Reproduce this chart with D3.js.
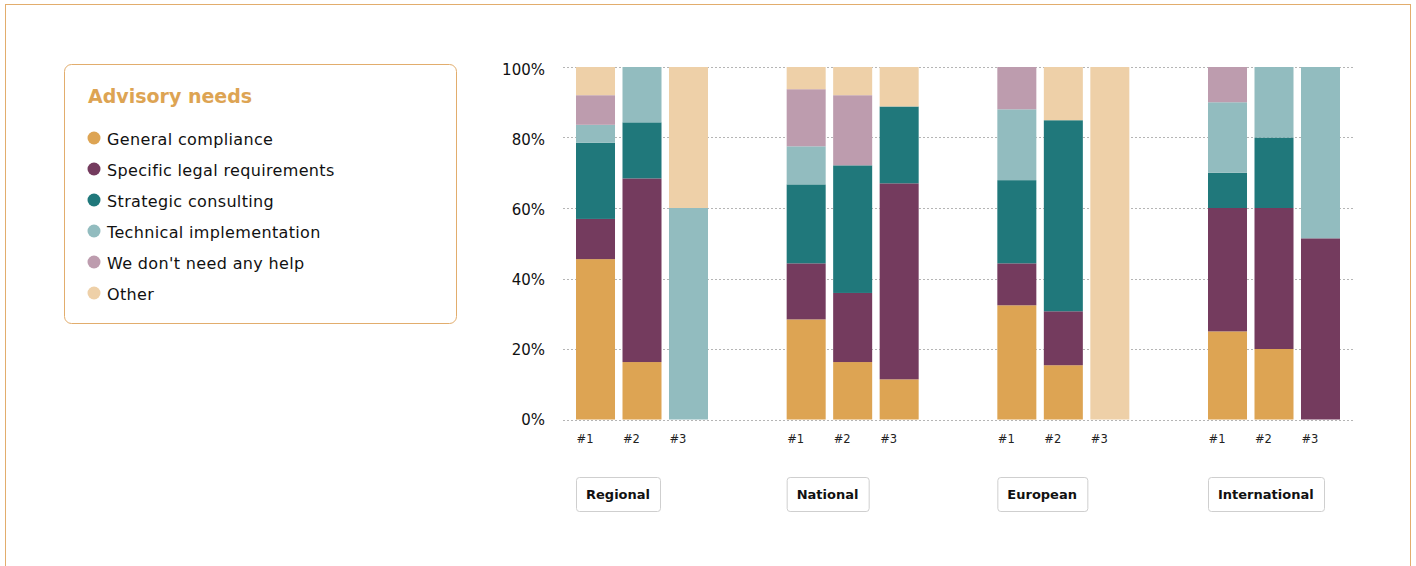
<!DOCTYPE html>
<html>
<head>
<meta charset="utf-8">
<script src="https://cdn.jsdelivr.net/npm/d3@7"></script>
<style>
  html, body { margin: 0; padding: 0; background: #fff; }
  svg { display: block; font-family: "DejaVu Sans", sans-serif; }
</style>
</head>
<body>
<svg id="chart" width="1416" height="566"></svg>
<script>
// Advisory needs by market scope, ranked #1..#3 (percent of respondents)
const groups = ["Regional", "National", "European", "International"];
const ranks = ["#1", "#2", "#3"];
const seriesNames = [
  "General compliance",
  "Specific legal requirements",
  "Strategic consulting",
  "Technical implementation",
  "We don't need any help",
  "Other"
];
const seriesColors = ["#dda453", "#743b5e", "#20787b", "#92bcbf", "#bd9cae", "#eed0a8"];

// One row per bar, values in series order (sum to 100)
const regional = [
  [45.5, 11.4, 21.6, 5.1, 8.4, 8.0],
  [16.3, 52.1, 15.9, 15.7, 0, 0],
  [0, 0, 0, 60, 0, 40]
];
const national = [
  [28.4, 15.9, 22.4, 10.8, 16.2, 6.3],
  [16.3, 19.6, 36.2, 0, 19.9, 8.0],
  [11.4, 55.6, 21.8, 0, 0, 11.2]
];
const european = [
  [32.4, 11.9, 23.6, 20.1, 12.0, 0],
  [15.4, 15.3, 54.2, 0, 0, 15.1],
  [0, 0, 0, 0, 0, 100]
];
const international = [
  [25, 35, 10, 20, 10, 0],
  [20, 40, 20, 20, 0, 0],
  [0, 51.4, 0, 48.6, 0, 0]
];
const yTicks = [0, 20, 40, 60, 80, 100];

const groupValues = [regional, national, european, international];

const svg = d3.select("#chart");

// Outer frame
svg.append("rect")
  .attr("x", 5.5).attr("y", 4.5)
  .attr("width", 1405).attr("height", 620)
  .attr("fill", "none")
  .attr("stroke", "#e2ad6d")
  .attr("stroke-width", 1);

// Legend panel
const legend = svg.append("g");
legend.append("rect")
  .attr("x", 64.5).attr("y", 64.5)
  .attr("width", 392).attr("height", 259)
  .attr("rx", 7)
  .attr("fill", "#fff")
  .attr("stroke", "#e2ad6d");
legend.append("text")
  .attr("x", 88).attr("y", 103)
  .attr("fill", "#dda453")
  .attr("font-size", 19)
  .attr("font-weight", 600)
  .text("Advisory needs");
const items = legend.selectAll("g.item")
  .data(seriesNames)
  .join("g")
  .attr("class", "item")
  .attr("transform", (d, i) => `translate(0,${138 + i * 31})`);
items.append("circle")
  .attr("cx", 94).attr("cy", 0).attr("r", 6.5)
  .attr("fill", (d, i) => seriesColors[i]);
items.append("text")
  .attr("x", 107).attr("y", 1)
  .attr("dy", "0.35em")
  .attr("font-size", 16)
  .attr("letter-spacing", 0.35)
  .attr("fill", "#111")
  .text(d => d);

// Scales
const y = d3.scaleLinear().domain([0, 100]).range([419.5, 67]);
const yLabel = d3.scaleLinear().domain([0, 100]).range([420, 70]);
const x0 = d3.scaleBand()
  .domain(groups)
  .range([563, 1353])
  .paddingInner(0.3734)
  .paddingOuter(0.0617);
const x1 = d3.scaleBand()
  .domain(ranks)
  .range([0, x0.bandwidth()])
  .paddingInner(0.161);

// Grid lines
svg.append("g")
  .selectAll("line")
  .data(yTicks)
  .join("line")
  .attr("x1", 563).attr("x2", 1353)
  .attr("y1", d => Math.round(y(d)) + 0.5)
  .attr("y2", d => Math.round(y(d)) + 0.5)
  .attr("stroke", "#b5b5b5")
  .attr("stroke-dasharray", "2,2");

// Y axis labels
const yAxis = d3.axisLeft(yLabel)
  .tickValues(yTicks)
  .tickFormat(d => d + "%")
  .tickSize(0)
  .tickPadding(0);
const yg = svg.append("g")
  .attr("transform", "translate(545,0)")
  .call(yAxis);
yg.select(".domain").remove();
yg.selectAll("text")
  .attr("font-family", "DejaVu Sans, sans-serif")
  .attr("font-size", 15)
  .attr("fill", "#111");

// Stacked bars
const stack = d3.stack().keys(d3.range(seriesNames.length));
groups.forEach((g, gi) => {
  const rows = groupValues[gi];
  const layers = stack(rows);
  const gg = svg.append("g").attr("transform", `translate(${x0(g)},0)`);
  gg.selectAll("g.layer")
    .data(layers)
    .join("g")
    .attr("class", "layer")
    .attr("fill", (d, i) => seriesColors[i])
    .selectAll("rect")
    .data(d => d.map((v, ri) => ({ v, ri })))
    .join("rect")
    .attr("x", d => x1(ranks[d.ri]))
    .attr("width", x1.bandwidth())
    .attr("y", d => y(d.v[1]))
    .attr("height", d => Math.max(0, y(d.v[0]) - y(d.v[1])));

  // rank labels under each bar
  gg.selectAll("text.rank")
    .data(ranks)
    .join("text")
    .attr("class", "rank")
    .attr("x", d => x1(d) + 0.5)
    .attr("y", 439)
    .attr("dy", "0.35em")
    .attr("font-size", 11.5)
    .attr("fill", "#222")
    .text(d => d);

  // group label button
  const btn = gg.append("g").attr("transform", "translate(0,477)");
  const label = btn.append("text")
    .attr("x", 10).attr("y", 17.5)
    .attr("dy", "0.35em")
    .attr("font-size", 13)
    .attr("font-weight", 600)
    .attr("fill", "#111")
    .text(g);
  const w = label.node().getComputedTextLength();
  btn.insert("rect", "text")
    .attr("x", 0.5).attr("y", 0.5)
    .attr("width", Math.round(w + 20)).attr("height", 34)
    .attr("rx", 3)
    .attr("fill", "#fff")
    .attr("stroke", "#cfcfcf");
});
</script>
</body>
</html>
